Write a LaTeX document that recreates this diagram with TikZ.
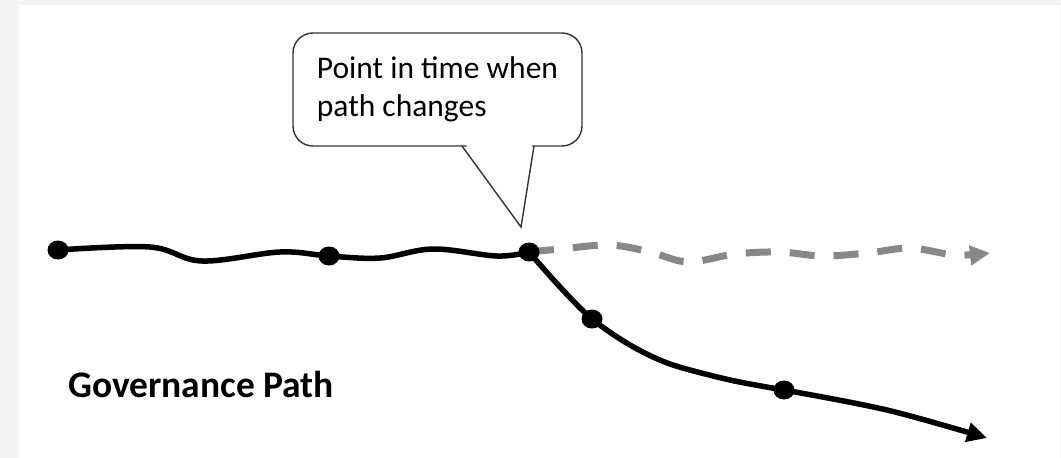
\documentclass[tikz,border=0pt]{standalone}
\usepackage{fontspec}
\setmainfont{Carlito}
\usetikzlibrary{arrows.meta,shapes.geometric}
\definecolor{framegray}{HTML}{F4F4F4}
\definecolor{dashgray}{HTML}{888888}
\definecolor{bubbleline}{HTML}{333333}
\tikzset{
  blackpath/.style={line width=5.5pt, black, line cap=round},
  graypath/.style={line width=7pt, dashgray, dash pattern=on 25pt off 19pt},
  dotnode/.style={ellipse, fill=black, inner sep=0pt, minimum width=21pt, minimum height=19pt},
  bubblebox/.style={draw=bubbleline, line width=1.4pt, rounded corners=20pt, fill=white,
    minimum width=289pt, minimum height=113pt, align=left, inner sep=0pt,
    font=\fontsize{31.5}{38}\selectfont},
  tailline/.style={draw=bubbleline, line width=1.4pt},
  titletext/.style={font=\fontsize{37.5}{44}\selectfont\bfseries, inner sep=0pt, anchor=base west}
}
\begin{document}
\begin{tikzpicture}[x=1pt,y=-1pt]
\useasboundingbox (0,0) rectangle (1061,458);
\fill[framegray] (0,0) rectangle (1061,458);
\fill[white] (19,5) rectangle (1060,458);
% bubble
\node[bubblebox] (bubble) at (437.5,89.5) {Point in time when\\path changes};
\coordinate (tip) at (521,227);
\fill[white] (463,140) -- (533,140) -- (tip) -- cycle;
\draw[tailline] (462,146) -- (tip) -- (534,146);
% dot positions
\coordinate (d1) at (58,250);
\coordinate (d2) at (329,256);
\coordinate (d3) at (529,252);
\coordinate (d4) at (592,319);
\coordinate (d5) at (784,390);
\coordinate (grayend) at (990,253);
\coordinate (blackend) at (987,438);
% gray dashed path
\draw[graypath, -{Triangle[length=20pt,width=19pt]}] plot[smooth, tension=0.55] coordinates
  {(d3) (560,249) (610,245) (650,252) (688,262) (735,254) (780,252) (822,256) (868,253) (910,248) (955,255) (grayend)};
% black paths
\draw[blackpath] plot[smooth, tension=0.6] coordinates
  {(d1) (150,247) (202,261) (280,252) (d2) (380,258) (433,249) (497,256) (d3)};
\draw[blackpath] plot[smooth, tension=0.5] coordinates
  {(d3) (560,287) (d4) (630,345) (670,364) (730,380) (d5)};
\draw[blackpath, line cap=butt, -{Triangle[length=20pt,width=19pt]}] plot[smooth, tension=0.55] coordinates
  {(d5) (887,410) (blackend)};
% dots on top
\node[dotnode] (n1) at (d1) {};
\node[dotnode] (n2) at (d2) {};
\node[dotnode] (n3) at (d3) {};
\node[dotnode] (n4) at (d4) {};
\node[dotnode] (n5) at (d5) {};
\node[titletext] (title) at (68,397) {Governance Path};
\end{tikzpicture}
\end{document}
